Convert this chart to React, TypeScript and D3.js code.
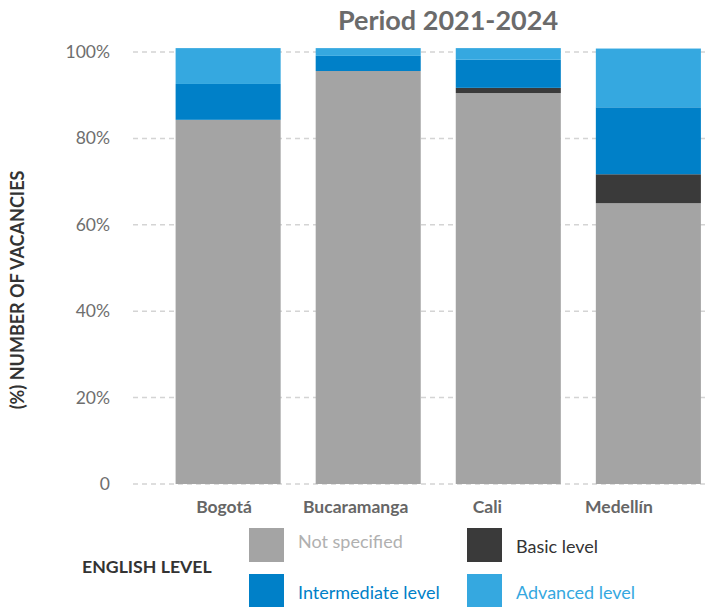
import React from "react";
import * as d3 from "d3";

const title = "Period 2021-2024";
const cities = ["Bogotá", "Bucaramanga", "Cali", "Medellín"];
const seriesNames = ["Not specified", "Basic level", "Intermediate level", "Advanced level"];
const seriesColors = ["#a4a4a4", "#3a3a3a", "#0080c8", "#35a8e0"];
const legendTextColors = ["#b0b0b0", "#333333", "#0080c8", "#35a8e0"];
const notSpecified = [84.3, 95.6, 90.5, 65.0];
const basicLevel = [0, 0, 1.2, 6.7];
const intermediateLevel = [8.3, 3.5, 6.5, 15.5];
const advancedLevel = [8.3, 1.8, 2.7, 13.6];
const yTicks = [0, 20, 40, 60, 80, 100];
const yAxisTitle = "(%) NUMBER OF VACANCIES";
const legendTitle = "ENGLISH LEVEL";

const W = 707;
const H = 607;
const FONT = "Lato, 'Open Sans', sans-serif";

export default function App() {
  const rows = cities.map((c, i) => ({
    city: c,
    s0: notSpecified[i],
    s1: basicLevel[i],
    s2: intermediateLevel[i],
    s3: advancedLevel[i],
  }));
  const keys = ["s0", "s1", "s2", "s3"];
  const stacked = d3.stack<any>().keys(keys)(rows);

  const x = d3.scaleBand<string>().domain(cities).range([175.6, 700.9]).paddingInner(0.25).paddingOuter(0);
  const xLabel = d3.scalePoint<string>().domain(cities).range([224, 619]);
  const y = d3.scaleLinear().domain([0, 100]).range([484, 52]);

  const legendItems = seriesNames.map((n, i) => ({
    name: n,
    color: seriesColors[i],
    textColor: legendTextColors[i],
    col: i % 2,
    row: Math.floor(i / 2),
  }));

  return (
    <svg width={W} height={H} style={{ position: "absolute", left: 0, top: 0, background: "#fff" }} fontFamily={FONT}>
      <text x={448} y={30} textAnchor="middle" fontSize={27} fontWeight={700} fill="#6b6b6b">
        {title}
      </text>
      {yTicks.map((t) => (
        <g key={t}>
          <line x1={133} x2={W} y1={y(t)} y2={y(t)} stroke="#d4d4d4" strokeWidth={1.5} strokeDasharray="5,4" />
          <text x={110} y={y(t) + 6} textAnchor="end" fontSize={17.5} fill="#6e6e6e">
            {t === 0 ? "0" : `${t}%`}
          </text>
        </g>
      ))}
      {stacked.map((layer, li) => (
        <g key={layer.key} fill={seriesColors[li]}>
          {layer.map((d, i) => (
            <rect
              key={i}
              x={x(cities[i])}
              width={x.bandwidth()}
              y={y(d[1])}
              height={Math.max(0, y(d[0]) - y(d[1]))}
            />
          ))}
        </g>
      ))}
      {cities.map((c) => (
        <text key={c} x={xLabel(c)} y={513} textAnchor="middle" fontSize={17.5} fontWeight={700} fill="#666">
          {c}
        </text>
      ))}
      <text
        transform={`translate(24, 290) rotate(-90)`}
        textAnchor="middle"
        fontSize={18}
        fontWeight={700}
        fill="#333"
      >
        {yAxisTitle}
      </text>
      <text x={82} y={573} fontSize={17.7} fontWeight={700} fill="#333">
        {legendTitle}
      </text>
      {legendItems.map((it) => {
        const lx = 249 + it.col * 218;
        const ly = 528 + it.row * 46;
        return (
          <g key={it.name}>
            <rect x={lx} y={ly} width={35} height={34} fill={it.color} />
            <text x={lx + 49} y={ly + (it.row === 0 && it.col === 0 ? 20 : 25)} fontSize={18} fill={it.textColor}>
              {it.name}
            </text>
          </g>
        );
      })}
    </svg>
  );
}
